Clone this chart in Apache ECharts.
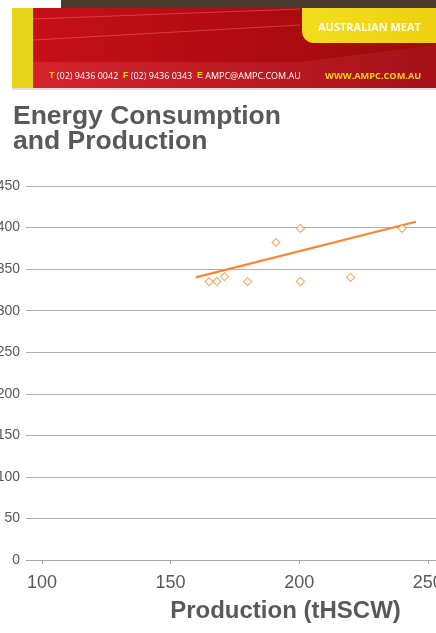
<!DOCTYPE html>
<html>
<head>
<meta charset="utf-8">
<script src="https://cdn.jsdelivr.net/npm/echarts@6/dist/echarts.min.js"></script>
<style>
  html, body { margin: 0; padding: 0; background: #fff; }
  #chart { width: 436px; height: 633px; }
</style>
</head>
<body>
<div id="chart"></div>
<script>
// values
const production = [165, 168, 171, 180, 191, 200.5, 200.5, 220, 240]
const energy = [335, 335, 341, 335, 382, 399, 335, 340, 399]
// trend line end points (as drawn)
const trendX = [159.8, 245.4]
const trendY = [340, 407]
const xTicks = [100, 150, 200, 250]

const gray = '#595959'
const orange = '#F79646'

const chart = echarts.init(document.getElementById('chart'))

chart.setOption({
  animation: false,
  backgroundColor: '#fff',
  title: {
    text: 'Energy Consumption\nand Production',
    left: 13,
    top: 104.5,
    padding: 0,
    textStyle: {
      fontFamily: 'Liberation Sans, Arial, sans-serif',
      fontSize: 26.5,
      fontWeight: 'bold',
      color: gray,
      lineHeight: 25
    }
  },
  grid: { left: 26, right: 0, top: 186, bottom: 73, outerBoundsMode: 'none' },
  xAxis: {
    type: 'value',
    min: 93.8,
    max: 253.2,
    splitLine: { show: false },
    axisLine: { show: true, lineStyle: { color: '#a6a6a6', width: 1 } },
    axisTick: { show: true, customValues: xTicks, length: 4, lineStyle: { color: '#a6a6a6' } },
    axisLabel: {
      customValues: xTicks,
      margin: 14,
      fontSize: 18,
      color: gray,
      fontFamily: 'Liberation Sans, Arial, sans-serif'
    }
  },
  yAxis: {
    type: 'value',
    min: 0,
    max: 450,
    interval: 50,
    axisLine: { show: false },
    axisTick: { show: false },
    splitLine: { lineStyle: { color: '#b0b0b0', width: 1 } },
    axisLabel: {
      margin: 6,
      fontSize: 14,
      color: gray,
      fontFamily: 'Liberation Sans, Arial, sans-serif'
    }
  },
  series: [
    {
      type: 'line',
      data: trendX.map((x, i) => [x, trendY[i]]),
      showSymbol: false,
      lineStyle: { color: '#F58634', width: 2.2 },
      z: 2
    },
    {
      type: 'scatter',
      data: production.map((x, i) => [x, energy[i]]),
      symbol: 'diamond',
      symbolSize: 8,
      itemStyle: { color: '#fff', borderColor: orange, borderWidth: 1.2 },
      z: 3
    }
  ],
  graphic: [
    // banner
    { type: 'rect', shape: { x: 61, y: 0, width: 375, height: 8 }, style: { fill: '#4b3b2f' } },
    { type: 'rect', shape: { x: 12, y: 8, width: 21, height: 80 }, style: { fill: '#e9d41e' } },
    {
      type: 'rect', shape: { x: 33, y: 8, width: 403, height: 80 },
      style: {
        fill: new echarts.graphic.LinearGradient(0, 0, 1, 0, [
          { offset: 0, color: '#c70f18' }, { offset: 1, color: '#9a090b' }
        ])
      }
    },
    {
      type: 'polygon', shape: { points: [[33, 62], [300, 62], [436, 45], [436, 88], [33, 88]] },
      style: {
        fill: new echarts.graphic.LinearGradient(0, 0, 1, 0, [
          { offset: 0, color: '#d5232b' }, { offset: 1, color: '#a5121a' }
        ])
      }
    },
    { type: 'line', shape: { x1: 33, y1: 19, x2: 300, y2: 9 }, style: { stroke: 'rgba(255,120,120,0.45)', lineWidth: 1 } },
    { type: 'line', shape: { x1: 33, y1: 40, x2: 300, y2: 25 }, style: { stroke: 'rgba(255,120,120,0.45)', lineWidth: 1 } },
    {
      type: 'rect', shape: { x: 302, y: 8, width: 140, height: 35, r: [0, 0, 0, 12] },
      style: {
        fill: new echarts.graphic.LinearGradient(0, 0, 1, 0, [
          { offset: 0, color: '#f2de1e' }, { offset: 1, color: '#eed010' }
        ])
      }
    },
    {
      type: 'text', x: 318, y: 28,
      style: {
        text: 'AUSTRALIAN MEAT', fill: '#fffbe8', fontSize: 11, fontWeight: 'bold',
        fontFamily: 'Open Sans, Liberation Sans, sans-serif', verticalAlign: 'middle'
      }
    },
    {
      type: 'text', x: 49, y: 76,
      style: {
        text: '{y|T} (02) 9436 0042  {y|F} (02) 9436 0343  {y|E} AMPC@AMPC.COM.AU',
        fill: '#fff', fontSize: 9, fontFamily: 'Open Sans, Liberation Sans, sans-serif',
        verticalAlign: 'middle',
        rich: { y: { fill: '#f5d21a', fontSize: 9, fontWeight: 'bold' } }
      }
    },
    {
      type: 'text', x: 325, y: 76,
      style: {
        text: 'WWW.AMPC.COM.AU', fill: '#f5d21a', fontSize: 9.2, fontWeight: 'bold',
        fontFamily: 'Open Sans, Liberation Sans, sans-serif', verticalAlign: 'middle'
      }
    },
    { type: 'rect', shape: { x: 12, y: 88, width: 424, height: 2 }, style: { fill: '#eadcdc' } },
    // x axis title
    {
      type: 'text', x: 285.5, y: 611,
      style: {
        text: 'Production (tHSCW)', fill: gray, fontSize: 24, fontWeight: 'bold',
        fontFamily: 'Liberation Sans, Arial, sans-serif', align: 'center', verticalAlign: 'middle'
      }
    }
  ]
})
</script>
</body>
</html>
